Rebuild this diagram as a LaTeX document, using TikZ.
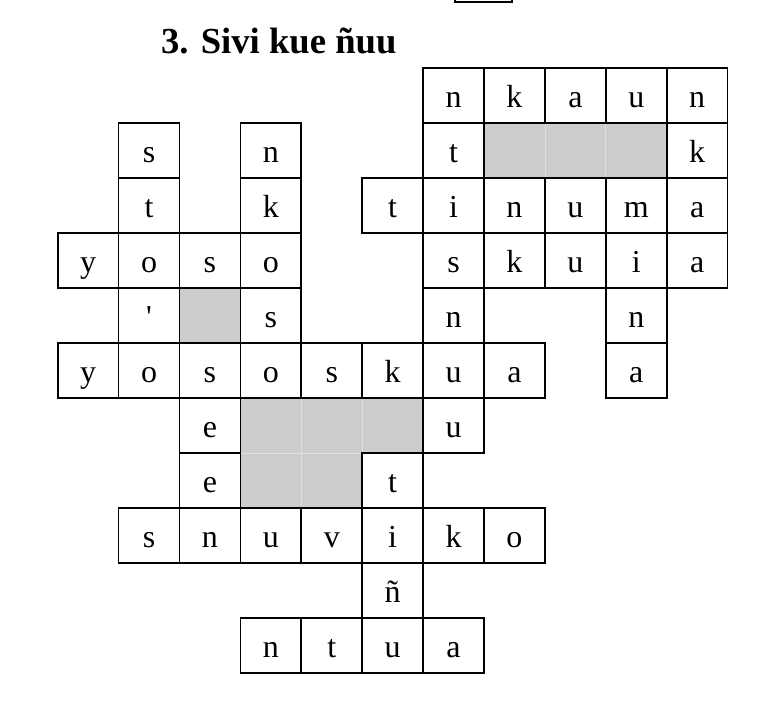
\documentclass[tikz,border=0pt]{standalone}
\usepackage{fontspec}
\newfontfamily\cellfont{Liberation Serif}
\usetikzlibrary{positioning}

\tikzset{
	cell/.style={draw,line width=1.3pt,minimum width=45.675pt,minimum height=41.25pt,
		inner sep=0pt,outer sep=0pt,text height=18pt,text depth=0.8pt,
		font=\cellfont\fontsize{24}{26}\selectfont},
	blank/.style={fill=black!20,draw=black!12,line width=0.5pt,minimum width=45.675pt,
		minimum height=41.25pt,inner sep=0pt,outer sep=0pt}
}

\begin{document}
\begin{tikzpicture}[x=45.675pt,y=-41.25pt]
	\useasboundingbox (-0.9475,-1.2418) rectangle (11.499,11.522);
	
	%box cut off at the top
	\draw[line width=1.3pt] (6.524,-1.26) |- (7.46,-1.2055) -- (7.46,-1.26);
	
	%title
	\node[anchor=base west,font=\cellfont\fontsize{27.5}{30}\bfseries] (title) at (1.62,-0.269) {3. Sivi kue ñuu};
	
	%grey squares
	\node[blank] (g1) at (7.5,1.5) {};
	\node[blank] (g2) at (8.5,1.5) {};
	\node[blank] (g3) at (9.5,1.5) {};
	\node[blank] (g4) at (2.5,4.5) {};
	\node[blank] (g5) at (3.5,6.5) {};
	\node[blank] (g6) at (4.5,6.5) {};
	\node[blank] (g7) at (5.5,6.5) {};
	\node[blank] (g8) at (3.5,7.5) {};
	\node[blank] (g9) at (4.5,7.5) {};
	
	%row 0
	\node[cell] (r0c6)  at (6.5,0.5)  {n};
	\node[cell] (r0c7)  at (7.5,0.5)  {k};
	\node[cell] (r0c8)  at (8.5,0.5)  {a};
	\node[cell] (r0c9)  at (9.5,0.5)  {u};
	\node[cell] (r0c10) at (10.5,0.5) {n};
	%row 1
	\node[cell] (r1c1)  at (1.5,1.5)  {s};
	\node[cell] (r1c3)  at (3.5,1.5)  {n};
	\node[cell] (r1c6)  at (6.5,1.5)  {t};
	\node[cell] (r1c10) at (10.5,1.5) {k};
	%row 2
	\node[cell] (r2c1)  at (1.5,2.5)  {t};
	\node[cell] (r2c3)  at (3.5,2.5)  {k};
	\node[cell] (r2c5)  at (5.5,2.5)  {t};
	\node[cell] (r2c6)  at (6.5,2.5)  {i};
	\node[cell] (r2c7)  at (7.5,2.5)  {n};
	\node[cell] (r2c8)  at (8.5,2.5)  {u};
	\node[cell] (r2c9)  at (9.5,2.5)  {m};
	\node[cell] (r2c10) at (10.5,2.5) {a};
	%row 3
	\node[cell] (r3c0)  at (0.5,3.5)  {y};
	\node[cell] (r3c1)  at (1.5,3.5)  {o};
	\node[cell] (r3c2)  at (2.5,3.5)  {s};
	\node[cell] (r3c3)  at (3.5,3.5)  {o};
	\node[cell] (r3c6)  at (6.5,3.5)  {s};
	\node[cell] (r3c7)  at (7.5,3.5)  {k};
	\node[cell] (r3c8)  at (8.5,3.5)  {u};
	\node[cell] (r3c9)  at (9.5,3.5)  {i};
	\node[cell] (r3c10) at (10.5,3.5) {a};
	%row 4
	\node[cell] (r4c1)  at (1.5,4.5)  {'};
	\node[cell] (r4c3)  at (3.5,4.5)  {s};
	\node[cell] (r4c6)  at (6.5,4.5)  {n};
	\node[cell] (r4c9)  at (9.5,4.5)  {n};
	%row 5
	\node[cell] (r5c0)  at (0.5,5.5)  {y};
	\node[cell] (r5c1)  at (1.5,5.5)  {o};
	\node[cell] (r5c2)  at (2.5,5.5)  {s};
	\node[cell] (r5c3)  at (3.5,5.5)  {o};
	\node[cell] (r5c4)  at (4.5,5.5)  {s};
	\node[cell] (r5c5)  at (5.5,5.5)  {k};
	\node[cell] (r5c6)  at (6.5,5.5)  {u};
	\node[cell] (r5c7)  at (7.5,5.5)  {a};
	\node[cell] (r5c9)  at (9.5,5.5)  {a};
	%row 6
	\node[cell] (r6c2)  at (2.5,6.5)  {e};
	\node[cell] (r6c6)  at (6.5,6.5)  {u};
	%row 7
	\node[cell] (r7c2)  at (2.5,7.5)  {e};
	\node[cell] (r7c5)  at (5.5,7.5)  {t};
	%row 8
	\node[cell] (r8c1)  at (1.5,8.5)  {s};
	\node[cell] (r8c2)  at (2.5,8.5)  {n};
	\node[cell] (r8c3)  at (3.5,8.5)  {u};
	\node[cell] (r8c4)  at (4.5,8.5)  {v};
	\node[cell] (r8c5)  at (5.5,8.5)  {i};
	\node[cell] (r8c6)  at (6.5,8.5)  {k};
	\node[cell] (r8c7)  at (7.5,8.5)  {o};
	%row 9
	\node[cell] (r9c5)  at (5.5,9.5)  {ñ};
	%row 10
	\node[cell] (r10c3) at (3.5,10.5) {n};
	\node[cell] (r10c4) at (4.5,10.5) {t};
	\node[cell] (r10c5) at (5.5,10.5) {u};
	\node[cell] (r10c6) at (6.5,10.5) {a};
\end{tikzpicture}
\end{document}
